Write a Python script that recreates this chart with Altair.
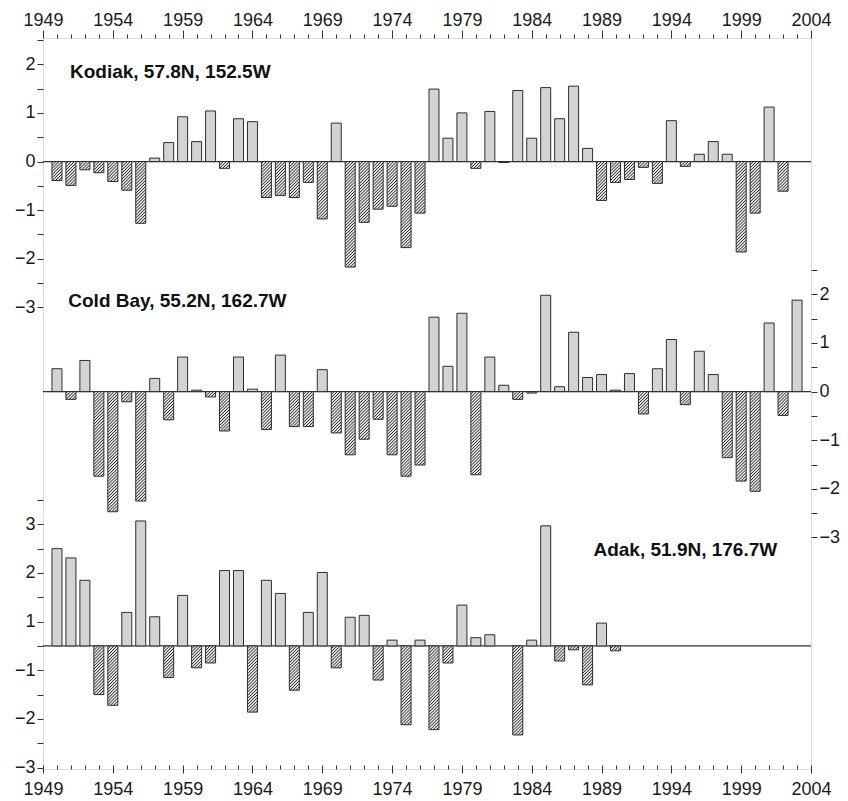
import altair as alt
import pandas as pd
import numpy as np

# ---------------- data ----------------
years = list(range(1950, 2004))

kodiak = [-0.39, -0.49, -0.17, -0.23, -0.41, -0.59, -1.27, 0.07, 0.39, 0.92,
          0.41, 1.04, -0.14, 0.88, 0.82, -0.74, -0.70, -0.74, -0.43, -1.18,
          0.79, -2.17, -1.25, -0.98, -0.92, -1.77, -1.06, 1.49, 0.48, 1.00,
          -0.14, 1.03, -0.02, 1.46, 0.48, 1.52, 0.88, 1.55, 0.27, -0.80,
          -0.43, -0.37, -0.12, -0.45, 0.84, -0.10, 0.15, 0.41, 0.15, -1.86,
          -1.06, 1.12, -0.61, None]

cold_bay = [0.47, -0.16, 0.64, -1.74, -2.47, -0.21, -2.25, 0.27, -0.58, 0.71,
            0.03, -0.11, -0.81, 0.71, 0.05, -0.78, 0.75, -0.72, -0.72, 0.45,
            -0.85, -1.30, -0.98, -0.57, -1.30, -1.74, -1.51, 1.53, 0.52, 1.61,
            -1.71, 0.71, 0.13, -0.16, -0.03, 1.98, 0.10, 1.22, 0.29, 0.35,
            0.03, 0.37, -0.46, 0.47, 1.07, -0.27, 0.83, 0.35, -1.36, -1.84,
            -2.05, 1.41, -0.49, 1.88]

adak = [2.00, 1.81, 1.35, -1.00, -1.22, 0.69, 2.57, 0.60, -0.65, 1.04,
        -0.45, -0.35, 1.55, 1.55, -1.36, 1.35, 1.08, -0.91, 0.69, 1.51,
        -0.45, 0.59, 0.63, -0.70, 0.12, -1.62, 0.12, -1.72, -0.35, 0.84,
        0.17, 0.23, None, -1.83, 0.12, 2.47, -0.31, -0.08, -0.80, 0.47,
        -0.10, None, None, None, None, None, None, None, None, None,
        None, None, None, None]

stations = ["Kodiak", "Cold Bay", "Adak"]
station_labels = ["Kodiak, 57.8N, 152.5W", "Cold Bay, 55.2N, 162.7W", "Adak, 51.9N, 176.7W"]
label_year = [1950.93, 1950.81, 1988.42]
label_level = [1.72, 1.74, 1.84]          # height of the label above the station's zero line

x_tick_years = list(range(1949, 2005))

# ---------------- layout ----------------
W, H = 768, 731
X0, X1 = 1949, 2004
Y0, Y1 = 0.0, 15.03
BASES = {"Kodiak": 12.49, "Cold Bay": 7.76, "Adak": 2.53}
BAR_PX = 10
ppx = W / (X1 - X0)
ppy = H / (Y1 - Y0)
half = BAR_PX / 2 / ppx

POS_FILL = "#d3d3d3"
NEG_BG = "#e4e4e4"
EDGE = "#2e2e2e"
FONT = "Liberation Sans"

series = {"Kodiak": kodiak, "Cold Bay": cold_bay, "Adak": adak}
rows = []
for name in stations:
    for yr, v in zip(years, series[name]):
        if v is None:
            continue
        rows.append({"station": name, "year": yr, "value": v, "base": BASES[name]})
bars_df = pd.DataFrame(rows)

# diagonal hatching for negative bars, derived from the values above
step = 3.1
hatch_rows = []
for r in rows:
    v = r["value"]
    if v >= 0:
        continue
    b = r["base"]
    xl = (r["year"] - half - X0) * ppx
    xr = (r["year"] + half - X0) * ppx
    yt = (Y1 - b) * ppy
    yb = (Y1 - (b + v)) * ppy
    kmin = int(np.ceil((xl + yt) / step))
    kmax = int(np.floor((xr + yb) / step))
    for k in range(kmin, kmax + 1):
        c = k * step
        xa = max(xl, c - yb)
        xb = min(xr, c - yt)
        if xb - xa < 0.4:
            continue
        hatch_rows.append({"hx": X0 + xa / ppx, "hy": Y1 - (c - xa) / ppy,
                           "hx2": X0 + xb / ppx, "hy2": Y1 - (c - xb) / ppy})
hatch_df = pd.DataFrame(hatch_rows)

base_df = pd.DataFrame({"station": stations, "base": [BASES[s] for s in stations]})
label_df = pd.DataFrame({"label": station_labels,
                         "lx": label_year,
                         "ly": [BASES[s] + l for s, l in zip(stations, label_level)]})

# ---------------- scales & axes ----------------
xs = alt.Scale(domain=[X0, X1], nice=False, zero=False)
ys = alt.Scale(domain=[Y0, Y1], nice=False, zero=False)

K, C, A = BASES["Kodiak"], BASES["Cold Bay"], BASES["Adak"]
left_vals = [round(K + 0.5 * k, 3) for k in range(-6, 6)] + [round(A + 0.5 * k, 3) for k in range(-5, 7)]
right_vals = [round(C + 0.5 * k, 3) for k in range(-6, 6)]

left_expr = (f"datum.value > 8 ? (abs(round(2*(datum.value-{K}))) % 2 == 0 ? format(round(datum.value-{K})+0,'d') : '') : "
             f"(abs(round(2*(datum.value-{A}))) % 2 == 1 ? format((datum.value > {A} ? 1 : -1)*(abs(round(2*(datum.value-{A})))+1)/2,'d') : '')")
right_expr = f"abs(round(2*(datum.value-{C}))) % 2 == 0 ? format(round(datum.value-{C})+0,'d') : ''"
x_expr = "(datum.value - 1949) % 5 == 0 ? format(datum.value,'d') : ''"
x_tick = {"condition": {"test": "(datum.value - 1949) % 5 == 0", "value": 8}, "value": 4}

common = dict(title=None, grid=False, domain=False, labelFont=FONT, labelFontSize=18,
              labelColor="#1a1a1a", tickColor="#333333", tickWidth=1, labelOverlap=False)

left_axis = alt.Axis(orient="left", values=left_vals, labelExpr=left_expr, tickSize=6,
                     labelPadding=2, **common)
right_axis = alt.Axis(orient="right", values=right_vals, labelExpr=right_expr, tickSize=6,
                      labelPadding=2, **common)
bottom_axis = alt.Axis(orient="bottom", values=x_tick_years, labelExpr=x_expr, tickSize=x_tick,
                       offset=-4, labelPadding=7, labelFlush=False, **common)
top_axis = alt.Axis(orient="top", values=x_tick_years, labelExpr=x_expr, tickSize=x_tick,
                    labelPadding=1, labelFlush=False, **common)

# ---------------- layers ----------------
zero_lines = alt.Chart(base_df).mark_rule(color="#333333", strokeWidth=1.2).encode(
    y=alt.Y("base:Q", scale=ys, axis=right_axis)
)

bars = alt.Chart(bars_df).transform_calculate(
    top="datum.base + datum.value",
    xa=f"datum.year - {half}",
    xb=f"datum.year + {half}",
)

fills = bars.mark_bar(strokeWidth=0).encode(
    x=alt.X("xa:Q", scale=xs, axis=bottom_axis),
    x2="xb:Q",
    y=alt.Y("top:Q", scale=ys, axis=left_axis),
    y2="base:Q",
    fill=alt.condition("datum.value < 0", alt.value(NEG_BG), alt.value(POS_FILL)),
)

hatch = alt.Chart(hatch_df).mark_rule(color="#262626", strokeWidth=1.0).encode(
    x=alt.X("hx:Q", scale=xs, axis=None),
    x2="hx2:Q",
    y=alt.Y("hy:Q", scale=ys, axis=None),
    y2="hy2:Q",
)

outlines = bars.mark_bar(fillOpacity=0, stroke=EDGE, strokeWidth=1).encode(
    x=alt.X("xa:Q", scale=xs, axis=top_axis),
    x2="xb:Q",
    y=alt.Y("top:Q", scale=ys, axis=None),
    y2="base:Q",
)

labels = alt.Chart(label_df).mark_text(align="left", baseline="alphabetic", font=FONT,
                                       fontSize=19, fontWeight="bold", color="#111111").encode(
    x=alt.X("lx:Q", scale=xs, axis=None),
    y=alt.Y("ly:Q", scale=ys, axis=None),
    text="label:N",
)

chart = alt.layer(zero_lines, fills, hatch, outlines, labels).resolve_axis(
    x="independent", y="independent"
).properties(
    width=W, height=H,
    autosize=alt.AutoSizeParams(type="none"),
    padding={"left": 35, "top": 30, "right": 29, "bottom": 31},
).configure_view(
    stroke="#222222", strokeWidth=1.2
).configure(background="white")

chart.save("out.html", embed_options={"renderer": "svg", "actions": False})
